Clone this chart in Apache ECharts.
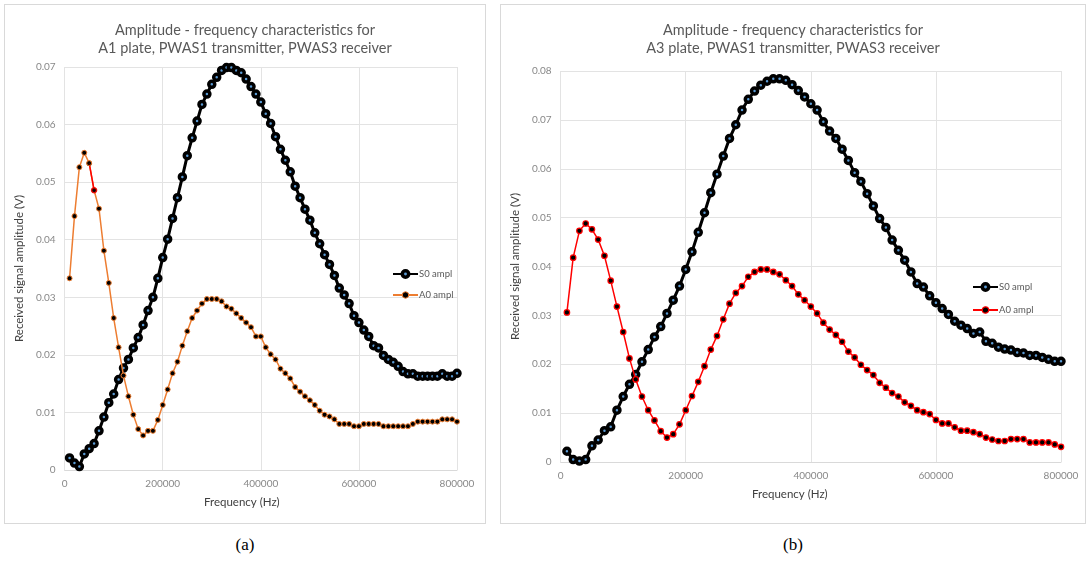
<!DOCTYPE html>
<html>
<head>
<meta charset="utf-8">
<script src="https://cdn.jsdelivr.net/npm/echarts@6/dist/echarts.min.js"></script>
<style>
  body { margin: 0; background: #fff; }
  .page { position: relative; width: 1088px; height: 564px; }
  .panel { position: absolute; top: 4px; height: 520px; box-sizing: border-box; border: 1px solid #d9d9d9; }
  #chartA { left: 4px; width: 482px; }
  #chartB { left: 500px; width: 586px; }
  .cap { position: absolute; top: 535px; width: 60px; text-align: center; font-family: "Liberation Serif", serif; font-size: 17px; color: #000; }
</style>
</head>
<body>
<div class="page">
  <div id="chartA" class="panel"></div>
  <div id="chartB" class="panel"></div>
  <div class="cap" style="left: 215px">(a)</div>
  <div class="cap" style="left: 763px">(b)</div>
</div>
<script>
// frequency (Hz) of every measured point
const freq = [
  10000, 20000, 30000, 40000, 50000, 60000, 70000, 80000, 90000, 100000,
  110000, 120000, 130000, 140000, 150000, 160000, 170000, 180000, 190000, 200000,
  210000, 220000, 230000, 240000, 250000, 260000, 270000, 280000, 290000, 300000,
  310000, 320000, 330000, 340000, 350000, 360000, 370000, 380000, 390000, 400000,
  410000, 420000, 430000, 440000, 450000, 460000, 470000, 480000, 490000, 500000,
  510000, 520000, 530000, 540000, 550000, 560000, 570000, 580000, 590000, 600000,
  610000, 620000, 630000, 640000, 650000, 660000, 670000, 680000, 690000, 700000,
  710000, 720000, 730000, 740000, 750000, 760000, 770000, 780000, 790000, 800000
];

// (a) A1 plate
const s0A1 = [
  0.0021, 0.0012, 0.0006, 0.0028, 0.0037, 0.0046, 0.0068, 0.0092, 0.0117, 0.0132,
  0.0157, 0.0177, 0.0192, 0.0212, 0.0230, 0.0252, 0.0277, 0.0300, 0.0333, 0.0369,
  0.0401, 0.0437, 0.0473, 0.0509, 0.0546, 0.0577, 0.0606, 0.0635, 0.0653, 0.0670,
  0.0682, 0.0694, 0.0699, 0.0699, 0.0694, 0.0690, 0.0679, 0.0666, 0.0653, 0.0639,
  0.0619, 0.0602, 0.0579, 0.0557, 0.0538, 0.0518, 0.0493, 0.0473, 0.0453, 0.0434,
  0.0412, 0.0393, 0.0374, 0.0357, 0.0338, 0.0316, 0.0304, 0.0289, 0.0268, 0.0256,
  0.0243, 0.0232, 0.0216, 0.0212, 0.0199, 0.0192, 0.0187, 0.0180, 0.0171, 0.0167,
  0.0167, 0.0163, 0.0163, 0.0163, 0.0163, 0.0163, 0.0167, 0.0163, 0.0163, 0.0168
];
const a0A1 = [
  0.0333, 0.0441, 0.0526, 0.0551, 0.0533, 0.0486, 0.0454, 0.0381, 0.0325, 0.0264,
  0.0213, 0.0164, 0.0128, 0.0096, 0.0071, 0.0060, 0.0068, 0.0068, 0.0087, 0.0113,
  0.0140, 0.0168, 0.0188, 0.0216, 0.0241, 0.0264, 0.0277, 0.0289, 0.0297, 0.0297,
  0.0297, 0.0293, 0.0284, 0.0280, 0.0272, 0.0264, 0.0256, 0.0248, 0.0232, 0.0232,
  0.0213, 0.0201, 0.0192, 0.0176, 0.0168, 0.0159, 0.0144, 0.0136, 0.0128, 0.0121,
  0.0113, 0.0103, 0.0096, 0.0093, 0.0088, 0.0080, 0.0080, 0.0080, 0.0076, 0.0076,
  0.0080, 0.0080, 0.0080, 0.0080, 0.0076, 0.0076, 0.0076, 0.0076, 0.0076, 0.0076,
  0.0080, 0.0084, 0.0084, 0.0084, 0.0084, 0.0084, 0.0088, 0.0088, 0.0088, 0.0084
];

// (b) A3 plate
const s0A3 = [
  0.0022, 0.0005, 0.0002, 0.0005, 0.0033, 0.0045, 0.0064, 0.0072, 0.0106, 0.0134,
  0.0159, 0.0179, 0.0205, 0.0230, 0.0256, 0.0277, 0.0304, 0.0331, 0.0360, 0.0394,
  0.0430, 0.0470, 0.0510, 0.0551, 0.0589, 0.0626, 0.0662, 0.0690, 0.0720, 0.0742,
  0.0759, 0.0771, 0.0779, 0.0784, 0.0784, 0.0781, 0.0772, 0.0760, 0.0747, 0.0733,
  0.0720, 0.0696, 0.0677, 0.0662, 0.0640, 0.0617, 0.0592, 0.0574, 0.0549, 0.0524,
  0.0498, 0.0480, 0.0454, 0.0433, 0.0413, 0.0389, 0.0365, 0.0358, 0.0340, 0.0326,
  0.0314, 0.0302, 0.0288, 0.0280, 0.0273, 0.0263, 0.0266, 0.0247, 0.0243, 0.0235,
  0.0231, 0.0229, 0.0224, 0.0223, 0.0218, 0.0218, 0.0214, 0.0210, 0.0206, 0.0206
];
const a0A3 = [
  0.0306, 0.0418, 0.0473, 0.0488, 0.0476, 0.0455, 0.0422, 0.0371, 0.0318, 0.0266,
  0.0212, 0.0169, 0.0134, 0.0106, 0.0085, 0.0063, 0.0050, 0.0057, 0.0077, 0.0106,
  0.0135, 0.0164, 0.0196, 0.0230, 0.0258, 0.0292, 0.0324, 0.0346, 0.0360, 0.0379,
  0.0389, 0.0394, 0.0394, 0.0389, 0.0384, 0.0372, 0.0360, 0.0343, 0.0331, 0.0318,
  0.0304, 0.0285, 0.0271, 0.0260, 0.0246, 0.0226, 0.0214, 0.0199, 0.0188, 0.0178,
  0.0162, 0.0152, 0.0141, 0.0134, 0.0122, 0.0115, 0.0106, 0.0102, 0.0098, 0.0086,
  0.0079, 0.0079, 0.0071, 0.0064, 0.0064, 0.0061, 0.0057, 0.0050, 0.0046, 0.0043,
  0.0043, 0.0047, 0.0047, 0.0047, 0.0040, 0.0040, 0.0040, 0.0040, 0.0036, 0.0031
];

const xTicks = [0, 200000, 400000, 600000, 800000];

const font = "Lato, 'Open Sans', sans-serif";
const pairs = (ys, from, to) => freq.slice(from, to).map((f, i) => [f, ys[from + i]]);

const s0Style = { color: "#5b9bd5", borderColor: "#000", borderWidth: 3.5 };

function baseOption(title, yMax, grid, legendPos, a0Style) {
  return {
    animation: false,
    textStyle: { fontFamily: font },
    title: {
      text: title,
      left: "center",
      top: 11,
      textStyle: { fontSize: 14.5, fontWeight: "normal", color: "#595959", lineHeight: 18, fontFamily: font },
    },
    legend: {
      orient: "vertical",
      left: legendPos[0],
      top: legendPos[1],
      itemWidth: 25,
      itemHeight: 8,
      itemGap: legendPos[2],
      data: [
        { name: "S0 ampl", itemStyle: s0Style },
        { name: "A0 ampl", itemStyle: a0Style },
      ],
      textStyle: { fontSize: 9.5, color: "#595959", padding: [0, 0, 0, -4] },
    },
    grid: grid,
    xAxis: {
      type: "value",
      min: xTicks[0],
      max: xTicks[xTicks.length - 1],
      interval: xTicks[1] - xTicks[0],
      name: "Frequency (Hz)",
      nameLocation: "middle",
      nameGap: 26,
      nameTextStyle: { fontSize: 11.5, color: "#404040", padding: [0, 38, 0, 0] },
      axisLine: { show: true, lineStyle: { color: "#d9d9d9" } },
      axisTick: { show: false },
      splitLine: { show: true, lineStyle: { color: "#e3e3e3" } },
      axisLabel: { fontSize: 10, color: "#888", margin: 9, formatter: (v) => String(v) },
    },
    yAxis: {
      type: "value",
      min: 0,
      max: yMax,
      interval: 0.01,
      name: "Received signal amplitude (V)",
      nameLocation: "middle",
      nameGap: 36,
      nameTextStyle: { fontSize: 11.5, color: "#404040" },
      axisLine: { show: false },
      axisTick: { show: false },
      splitLine: { show: true, lineStyle: { color: "#e3e3e3" } },
      axisLabel: { fontSize: 10, color: "#888", margin: 9, formatter: (v) => (v === 0 ? "0" : v.toFixed(2)) },
    },
  };
}

function s0Series(ys) {
  return {
    name: "S0 ampl",
    type: "line",
    data: pairs(ys, 0, freq.length),
    symbol: "circle",
    symbolSize: 6,
    lineStyle: { color: "#000", width: 3 },
    itemStyle: s0Style,
    z: 3,
  };
}

// chart (a)
const a0StyleA = { color: "#000", borderColor: "#ed7d31", borderWidth: 1 };
const optionA = baseOption(
  "Amplitude - frequency characteristics for\nA1 plate, PWAS1 transmitter, PWAS3 receiver",
  0.07,
  { left: 57, top: 62, width: 395, height: 403 },
  [382, 259, 11],
  a0StyleA
);
optionA.series = [
  s0Series(s0A1),
  {
    name: "A0 ampl",
    type: "line",
    data: pairs(a0A1, 0, freq.length),
    symbol: "circle",
    symbolSize: 5,
    lineStyle: { color: "#ed7d31", width: 1.5 },
    itemStyle: a0StyleA,
    z: 4,
  },
  // one segment of the A0 line is drawn red in the original
  {
    name: "A0 red",
    type: "line",
    data: pairs(a0A1, 4, 6),
    showSymbol: false,
    lineStyle: { color: "#ff0000", width: 1.5 },
    z: 5,
  },
  {
    name: "A0 red pts",
    type: "scatter",
    data: [
      { value: [freq[4], a0A1[4]], itemStyle: { borderColor: "#ed7d31" } },
      { value: [freq[5], a0A1[5]], itemStyle: { borderColor: "#ff0000", borderWidth: 1.5 } },
    ],
    symbolSize: 5,
    itemStyle: { color: "#000", borderWidth: 1 },
    z: 6,
  },
];

// chart (b)
const a0StyleB = { color: "#000", borderColor: "#ff0000", borderWidth: 1.2 };
const optionB = baseOption(
  "Amplitude - frequency characteristics for\nA3 plate, PWAS1 transmitter, PWAS3 receiver",
  0.08,
  { left: 57, top: 66, width: 503, height: 391 },
  [466, 272, 13],
  a0StyleB
);
optionB.xAxis.nameTextStyle.padding = [0, 42, 0, 0];
optionB.series = [
  s0Series(s0A3),
  {
    name: "A0 ampl",
    type: "line",
    data: pairs(a0A3, 0, freq.length),
    symbol: "circle",
    symbolSize: 5.5,
    lineStyle: { color: "#ff0000", width: 1.5 },
    itemStyle: a0StyleB,
    z: 4,
  },
];

const myChart = echarts.init(document.getElementById("chartA"));
const myChart1 = echarts.init(document.getElementById("chartB"));
myChart.setOption(optionA);
myChart1.setOption(optionB);
</script>
</body>
</html>
